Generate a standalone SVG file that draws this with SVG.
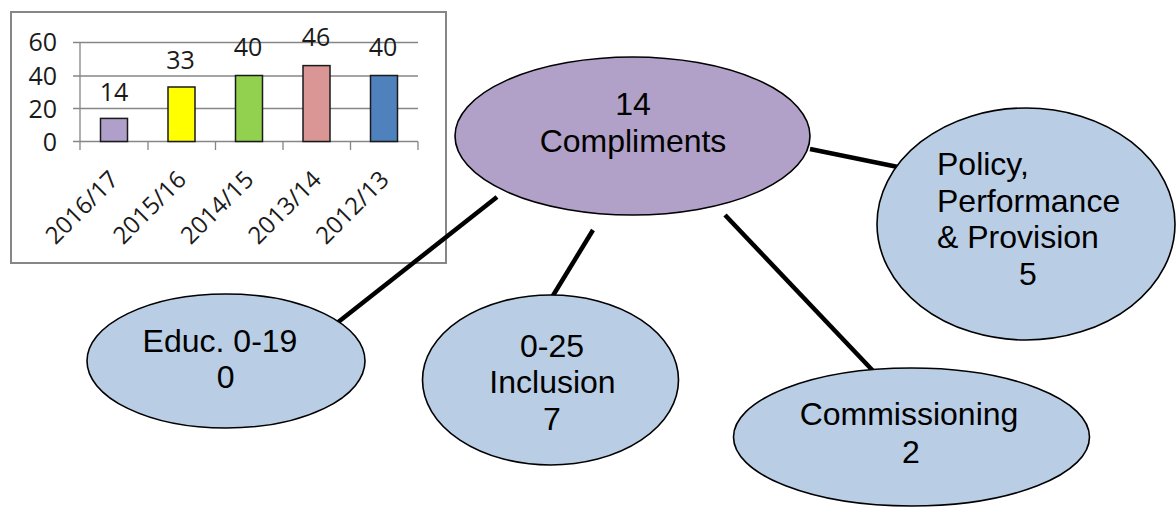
<svg xmlns="http://www.w3.org/2000/svg" width="1176" height="507" viewBox="0 0 1176 507">
<style>
.chtxt{font-family:"Open Sans","Liberation Sans",sans-serif;font-size:24px;fill:#1a1a1a}
.grid{stroke:#868686;stroke-width:1.3;fill:none}
.bar{stroke:#1a1a1a;stroke-width:1.5}
.node{stroke:#000;stroke-width:1.6}
.blue{fill:#B9CDE5}
.purple{fill:#B1A0C7}
.lbl{font-family:"Liberation Sans",Arial,sans-serif;font-size:32px;fill:#000}
.conn{stroke:#000;stroke-width:4.5;fill:none}
</style>
<rect width="1176" height="507" fill="#fff"/>
<g id="chart">
<rect x="11" y="12" width="435" height="251" fill="#fff" stroke="#868686" stroke-width="2"/>
<path class="grid" d="M73 42.5H418M73 76H418M73 108.5H418M80 42.5V150M73 141.5H418M148 141.5V150M215.5 141.5V150M283 141.5V150M350.5 141.5V150M418 141.5V150"/>
<rect class="bar" x="100.5" y="118.4" width="27" height="23.1" fill="#B09FCA"/>
<rect class="bar" x="168" y="87" width="27" height="54.5" fill="#FFFF00"/>
<rect class="bar" x="235.5" y="75.5" width="27" height="66" fill="#92D050"/>
<rect class="bar" x="303" y="65.6" width="27" height="75.9" fill="#D99694"/>
<rect class="bar" x="370.5" y="75.5" width="27" height="66" fill="#4F81BD"/>
<g class="chtxt" text-anchor="end" style="font-size:25px">
<text x="57" y="51">60</text>
<text x="57" y="84.5">40</text>
<text x="57" y="117.5">20</text>
<text x="57" y="151">0</text>
</g>
<g class="chtxt" text-anchor="middle" style="font-size:25px">
<text x="114" y="100.5">14</text>
<text x="180.5" y="68.5">33</text>
<text x="248" y="56">40</text>
<text x="316" y="46">46</text>
<text x="383" y="56">40</text>
</g>
<g class="chtxt" text-anchor="end">
<text transform="translate(120,181) rotate(-45)">2016/17</text>
<text transform="translate(187.6,181) rotate(-45)">2015/16</text>
<text transform="translate(255.2,181) rotate(-45)">2014/15</text>
<text transform="translate(322.8,181) rotate(-45)">2013/14</text>
<text transform="translate(390.4,181) rotate(-45)">2012/13</text>
</g>
</g>
<g id="connectors">
<line class="conn" x1="810" y1="149" x2="898" y2="167"/>
<line class="conn" x1="497" y1="197" x2="337" y2="323"/>
<line class="conn" x1="593" y1="230" x2="551.5" y2="298"/>
<line class="conn" x1="725" y1="215" x2="876" y2="374"/>
</g>
<g id="center">
<ellipse class="node purple" cx="632.5" cy="136" rx="177.5" ry="79"/>
<text class="lbl" x="633" y="115" text-anchor="middle">14</text>
<text class="lbl" x="633" y="152" text-anchor="middle">Compliments</text>
</g>
<g id="policy">
<ellipse class="node blue" cx="1026" cy="224" rx="149" ry="116"/>
<text class="lbl" x="937" y="175">Policy,</text>
<text class="lbl" x="937" y="211.7">Performance</text>
<text class="lbl" x="937" y="248.3">&amp; Provision</text>
<text class="lbl" x="1028" y="285" text-anchor="middle">5</text>
</g>
<g id="educ">
<ellipse class="node blue" cx="226" cy="361" rx="139" ry="67"/>
<text class="lbl" x="220" y="351.7" text-anchor="middle">Educ. 0-19</text>
<text class="lbl" x="225.7" y="388" text-anchor="middle">0</text>
</g>
<g id="inclusion">
<ellipse class="node blue" cx="550.5" cy="380" rx="128" ry="85"/>
<text class="lbl" x="552" y="356.7" text-anchor="middle">0-25</text>
<text class="lbl" x="552.5" y="392.7" text-anchor="middle">Inclusion</text>
<text class="lbl" x="552" y="430" text-anchor="middle">7</text>
</g>
<g id="commissioning">
<ellipse class="node blue" cx="911.5" cy="437" rx="178" ry="69"/>
<text class="lbl" x="909" y="425" text-anchor="middle">Commissioning</text>
<text class="lbl" x="911" y="463" text-anchor="middle">2</text>
</g>
</svg>
